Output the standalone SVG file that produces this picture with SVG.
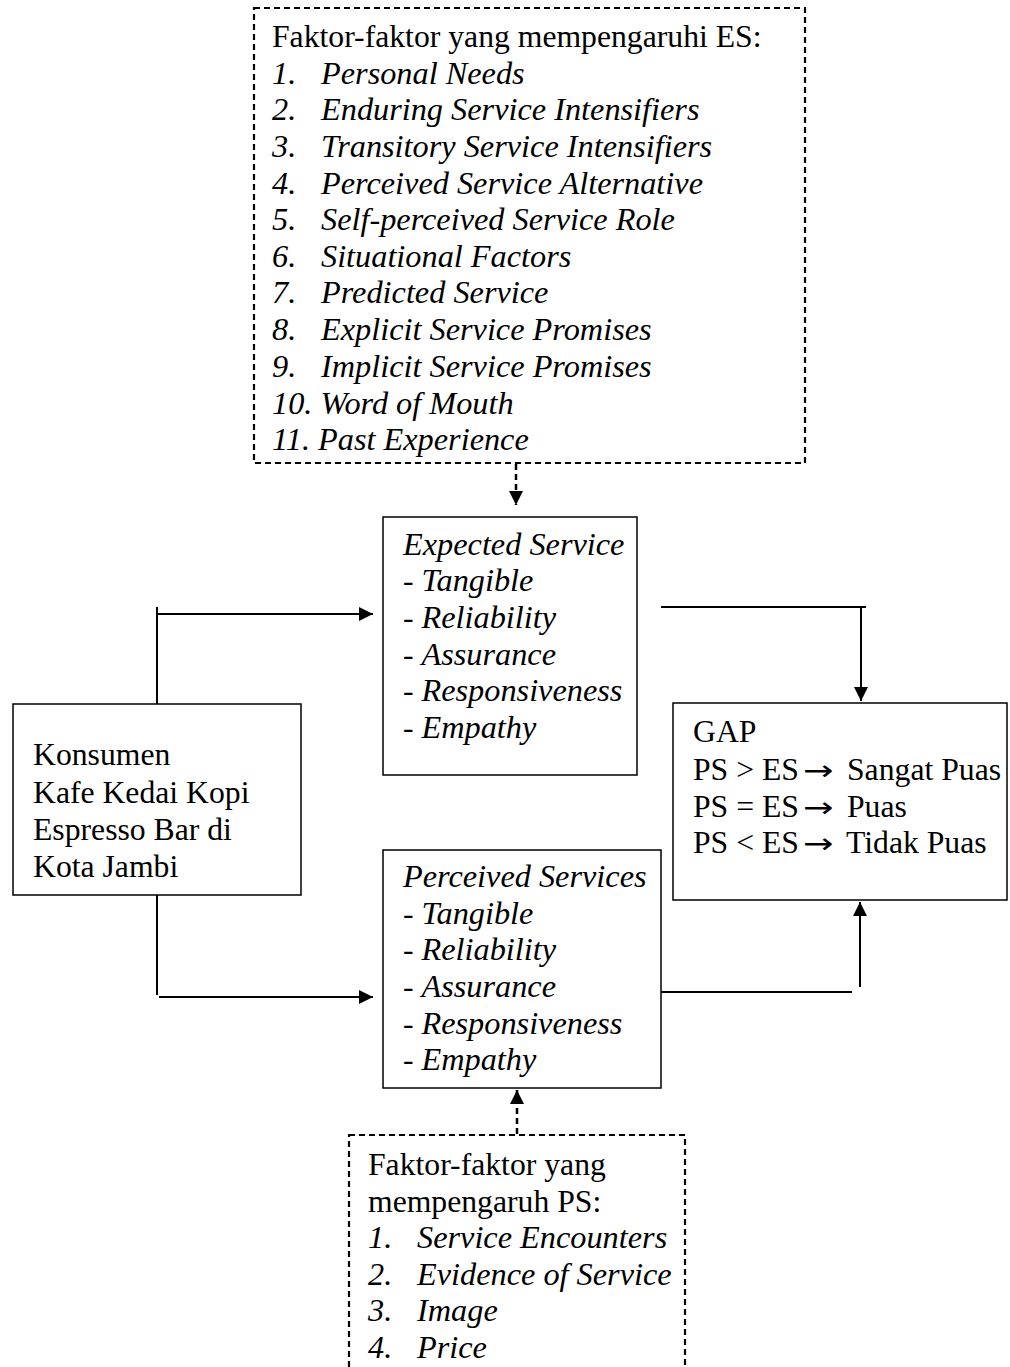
<svg xmlns="http://www.w3.org/2000/svg" width="1010" height="1367" viewBox="0 0 1010 1367">
<style>
text{font-family:"Liberation Serif","Times New Roman",serif;font-size:31.7px;fill:#000}
.i{font-style:italic;font-size:32.3px}
.ar{font-family:"DejaVu Sans",sans-serif;font-size:28px}
.box{fill:#fff;stroke:#000;stroke-width:1.5}
.dbox{fill:#fff;stroke:#000;stroke-width:2.2;stroke-dasharray:6,4}
.ln{fill:none;stroke:#000;stroke-width:2}
.dln{fill:none;stroke:#000;stroke-width:2.5;stroke-dasharray:6,4}
</style>
<defs>
<marker id="ah" viewBox="0 0 10 10" refX="10" refY="5" markerWidth="14" markerHeight="14" markerUnits="userSpaceOnUse" orient="auto"><path d="M0,0 L10,5 L0,10 Z" fill="#000"/></marker>
</defs>
<rect width="1010" height="1367" fill="#fff"/>
<g id="connectors">
<path class="dln" d="M516,464 V505" marker-end="url(#ah)"/>
<path class="ln" d="M157,704 V607 M157,614 H373" marker-end="url(#ah)"/>
<path class="ln" d="M157,895 V995 M159,997 H373" marker-end="url(#ah)"/>
<path class="ln" d="M661,607 H866 M861,607 V701" marker-end="url(#ah)"/>
<path class="ln" d="M661,992 H852 M860,987 V902" marker-end="url(#ah)"/>
<path class="dln" d="M517,1134 V1090" marker-end="url(#ah)"/>
</g>
<g id="es-factors">
<rect class="dbox" x="254" y="8" width="551" height="455"/>
<text x="272" y="47">Faktor-faktor yang mempengaruhi ES:</text>
<text class="i" x="272" y="84">1.</text><text class="i" x="321" y="84">Personal Needs</text>
<text class="i" x="272" y="120">2.</text><text class="i" x="321" y="120">Enduring Service Intensifiers</text>
<text class="i" x="272" y="157">3.</text><text class="i" x="321" y="157">Transitory Service Intensifiers</text>
<text class="i" x="272" y="194">4.</text><text class="i" x="321" y="194">Perceived Service Alternative</text>
<text class="i" x="272" y="230">5.</text><text class="i" x="321" y="230">Self-perceived Service Role</text>
<text class="i" x="272" y="267">6.</text><text class="i" x="321" y="267">Situational Factors</text>
<text class="i" x="272" y="303">7.</text><text class="i" x="321" y="303">Predicted Service</text>
<text class="i" x="272" y="340">8.</text><text class="i" x="321" y="340">Explicit Service Promises</text>
<text class="i" x="272" y="377">9.</text><text class="i" x="321" y="377">Implicit Service Promises</text>
<text class="i" x="272" y="414">10. Word of Mouth</text>
<text class="i" x="272" y="450">11. Past Experience</text>
</g>
<g id="expected-service">
<rect class="box" x="383" y="517" width="254" height="258"/>
<text class="i" x="403" y="555">Expected Service</text>
<text x="403" y="591">- <tspan class="i">Tangible</tspan></text>
<text x="403" y="628">- <tspan class="i">Reliability</tspan></text>
<text x="403" y="665">- <tspan class="i">Assurance</tspan></text>
<text x="403" y="701">- <tspan class="i">Responsiveness</tspan></text>
<text x="403" y="738">- <tspan class="i">Empathy</tspan></text>
</g>
<g id="konsumen">
<rect class="box" x="13" y="704" width="288" height="191"/>
<text x="33" y="765">Konsumen</text>
<text x="33" y="803">Kafe Kedai Kopi</text>
<text x="33" y="840">Espresso Bar di</text>
<text x="33" y="877">Kota Jambi</text>
</g>
<g id="gap">
<rect class="box" x="673" y="703" width="334" height="197"/>
<text x="693" y="742">GAP</text>
<text x="693" y="780">PS &gt; ES</text>
<text class="ar" transform="translate(803,780) scale(1.3,1)">→</text>
<text x="847" y="780">Sangat Puas</text>
<text x="693" y="817">PS = ES</text>
<text class="ar" transform="translate(803,817) scale(1.3,1)">→</text>
<text x="847" y="817">Puas</text>
<text x="693" y="853">PS &lt; ES</text>
<text class="ar" transform="translate(803,853) scale(1.3,1)">→</text>
<text x="846" y="853">Tidak Puas</text>
</g>
<g id="perceived-services">
<rect class="box" x="383" y="850" width="278" height="238"/>
<text class="i" x="403" y="887">Perceived Services</text>
<text x="403" y="924">- <tspan class="i">Tangible</tspan></text>
<text x="403" y="960">- <tspan class="i">Reliability</tspan></text>
<text x="403" y="997">- <tspan class="i">Assurance</tspan></text>
<text x="403" y="1034">- <tspan class="i">Responsiveness</tspan></text>
<text x="403" y="1070">- <tspan class="i">Empathy</tspan></text>
</g>
<g id="ps-factors">
<rect class="dbox" x="349" y="1135" width="336" height="250"/>
<text x="368" y="1175">Faktor-faktor yang</text>
<text x="368" y="1212">mempengaruh PS:</text>
<text class="i" x="368" y="1248">1.</text><text class="i" x="417" y="1248">Service Encounters</text>
<text class="i" x="368" y="1285">2.</text><text class="i" x="417" y="1285">Evidence of Service</text>
<text class="i" x="368" y="1321">3.</text><text class="i" x="417" y="1321">Image</text>
<text class="i" x="368" y="1358">4.</text><text class="i" x="417" y="1358">Price</text>
</g>
</svg>
